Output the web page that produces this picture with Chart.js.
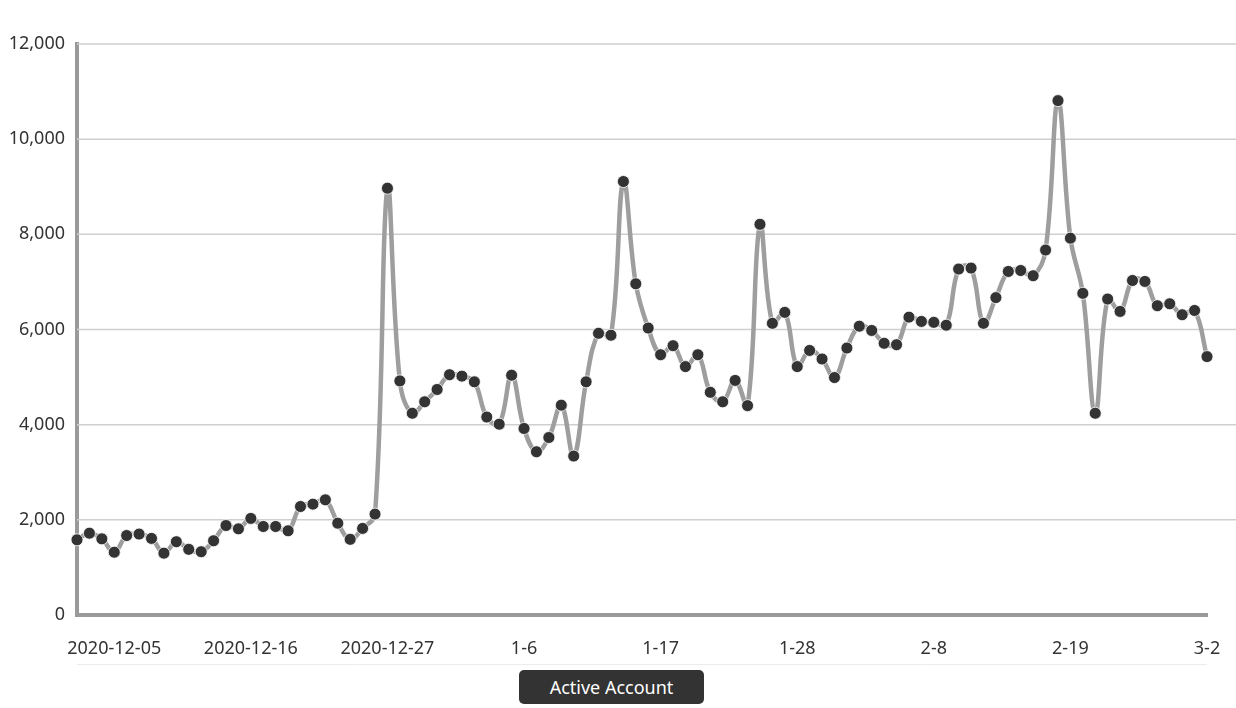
<!DOCTYPE html>
<html>
<head>
<meta charset="utf-8">
<title>Active Account</title>
<script src="https://cdn.jsdelivr.net/npm/chart.js@4.4.1/dist/chart.umd.min.js"></script>
<style>
  html, body { margin: 0; padding: 0; background: #fff; overflow: hidden; }
  #wrap { position: relative; width: 1236px; height: 708px; }
  canvas { display: block; }
  #legendBox {
    position: absolute;
    left: 519px;
    top: 670px;
    width: 185px;
    height: 34px;
    line-height: 34px;
    background: #333;
    border-radius: 5px;
    color: #fff;
    font-family: "Noto Sans", sans-serif;
    font-size: 18px;
    text-align: center;
  }
</style>
</head>
<body>
<div id="wrap">
  <canvas id="activeChart" width="1236" height="708"></canvas>
  <div id="legendBox">Active Account</div>
</div>
<script>
// dates, one per point (the source has an extra entry around new year)
const dates = [
  "2020-12-02", "2020-12-03", "2020-12-04", "2020-12-05", "2020-12-06", "2020-12-07",
  "2020-12-08", "2020-12-09", "2020-12-10", "2020-12-11", "2020-12-12", "2020-12-13",
  "2020-12-14", "2020-12-15", "2020-12-16", "2020-12-17", "2020-12-18", "2020-12-19",
  "2020-12-20", "2020-12-21", "2020-12-22", "2020-12-23", "2020-12-24", "2020-12-25",
  "2020-12-26", "2020-12-27", "2020-12-28", "2020-12-29", "2020-12-30", "2020-12-31",
  "2021-01-01", "1-1", "1-2", "1-3", "1-4", "1-5", "1-6", "1-7", "1-8", "1-9", "1-10",
  "1-11", "1-12", "1-13", "1-14", "1-15", "1-16", "1-17", "1-18", "1-19", "1-20",
  "1-21", "1-22", "1-23", "1-24", "1-25", "1-26", "1-27", "1-28", "1-29", "1-30",
  "1-31", "2-1", "2-2", "2-3", "2-4", "2-5", "2-6", "2-7", "2-8", "2-9", "2-10",
  "2-11", "2-12", "2-13", "2-14", "2-15", "2-16", "2-17", "2-18", "2-19", "2-20",
  "2-21", "2-22", "2-23", "2-24", "2-25", "2-26", "2-27", "2-28", "3-1", "3-2"
];

const activeAccounts = [
  1580, 1720, 1600, 1320, 1670, 1700, 1610, 1300, 1540, 1380,
  1330, 1560, 1880, 1810, 2030, 1860, 1860, 1770, 2280, 2330,
  2420, 1930, 1590, 1820, 2120, 8970, 4920, 4240, 4480, 4740,
  5050, 5020, 4900, 4160, 4010, 5040, 3920, 3430, 3730, 4410,
  3340, 4900, 5920, 5880, 9110, 6960, 6030, 5470, 5660, 5220,
  5470, 4680, 4480, 4930, 4400, 8210, 6130, 6360, 5220, 5560,
  5380, 4990, 5610, 6070, 5980, 5710, 5680, 6260, 6170, 6150,
  6090, 7270, 7290, 6130, 6670, 7220, 7240, 7130, 7670, 10810,
  7920, 6760, 4240, 6640, 6380, 7030, 7010, 6500, 6540, 6310,
  6400, 5430
];

const yTicks = [0, 2000, 4000, 6000, 8000, 10000, 12000];
const firstLabelIndex = 3;
const labelEvery = 11;

const FONT = "'Noto Sans', sans-serif";

// horizontal grid lines run past the last point to the canvas edge
const gridToEdge = {
  id: "gridToEdge",
  beforeDatasetsDraw(chart) {
    const { ctx, chartArea, scales } = chart;
    ctx.save();
    ctx.strokeStyle = "#cfcfcf";
    ctx.lineWidth = 1.5;
    yTicks.forEach((v) => {
      if (v === 0) return;
      const py = scales.y.getPixelForValue(v);
      ctx.beginPath();
      ctx.moveTo(chartArea.left, py);
      ctx.lineTo(chart.width, py);
      ctx.stroke();
    });
    // faint rule under the date labels
    ctx.strokeStyle = "#ececec";
    ctx.lineWidth = 1;
    ctx.beginPath();
    ctx.moveTo(chartArea.left, chartArea.bottom + 49.5);
    ctx.lineTo(chartArea.right, chartArea.bottom + 49.5);
    ctx.stroke();
    ctx.restore();
  },
};

new Chart(document.getElementById("activeChart").getContext("2d"), {
  type: "line",
  data: {
    labels: dates,
    datasets: [
      {
        label: "Active Account",
        data: activeAccounts,
        borderColor: "#9e9e9e",
        borderWidth: 4.5,
        tension: 0.4,
        fill: false,
        pointRadius: 6,
        pointBackgroundColor: "#333333",
        pointBorderColor: "#ffffff",
        pointBorderWidth: 0.8,
        clip: false,
      },
    ],
  },
  options: {
    responsive: false,
    animation: false,
    layout: {
      padding: { top: 44, right: 29, bottom: 0, left: 0 },
    },
    plugins: {
      legend: { display: false },
      tooltip: { enabled: false },
    },
    scales: {
      x: {
        offset: false,
        // tick marks are hidden, tickLength only pushes the labels down
        grid: { display: false, drawTicks: true, tickLength: 23 },
        border: { display: true, color: "#9a9a9a", width: 4 },
        ticks: {
          autoSkip: false,
          maxRotation: 0,
          padding: 0,
          color: "#333",
          font: { family: FONT, size: 18 },
          callback: function (value, index) {
            return (index - firstLabelIndex) % labelEvery === 0 ? dates[index] : "";
          },
        },
        afterFit: function (scale) {
          scale.height = 93;
        },
      },
      y: {
        min: 0,
        max: 12000,
        grid: { display: false, drawTicks: false },
        border: { display: true, color: "#9a9a9a", width: 4 },
        ticks: {
          stepSize: 2000,
          padding: 12,
          color: "#333",
          font: { family: FONT, size: 18 },
          callback: function (value) {
            return value.toLocaleString("en-US");
          },
        },
        afterFit: function (scale) {
          scale.width = 77;
        },
      },
    },
  },
  plugins: [gridToEdge],
});
</script>
</body>
</html>
